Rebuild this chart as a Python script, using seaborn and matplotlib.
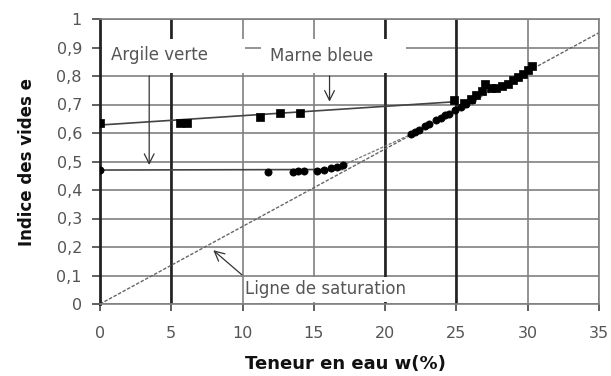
import matplotlib
matplotlib.use("Agg")
import matplotlib.pyplot as plt
from matplotlib.patches import Rectangle
import seaborn as sns
import pandas as pd

# ---------------- data ----------------
# Marne bleue (squares)
w_marne = [0, 5.6, 6.1, 11.2, 12.6, 14.0, 24.8, 25.5, 26.0, 26.4, 26.8, 27.0,
           27.4, 27.8, 28.2, 28.6, 29.0, 29.3, 29.7, 30.0, 30.3]
e_marne = [0.634, 0.634, 0.634, 0.657, 0.669, 0.671, 0.715, 0.705, 0.720, 0.735,
           0.748, 0.772, 0.758, 0.757, 0.765, 0.772, 0.785, 0.795, 0.808, 0.820, 0.835]
# Argile verte (circles)
w_argile = [0, 11.75, 13.55, 13.9, 14.3, 15.2, 15.7, 16.2, 16.6, 17.05,
            21.8, 22.1, 22.4, 22.8, 23.1, 23.6, 23.9, 24.2, 24.5, 24.9, 25.3, 25.7, 26.1]
e_argile = [0.470, 0.464, 0.464, 0.468, 0.468, 0.468, 0.470, 0.476, 0.482, 0.488,
            0.595, 0.603, 0.612, 0.625, 0.632, 0.645, 0.653, 0.662, 0.668, 0.679,
            0.690, 0.703, 0.715]
# trend / reference lines
trend_marne_w = [0, 25]
trend_marne_e = [0.628, 0.71]
trend_argile_w = [0, 17.0]
trend_argile_e = [0.470, 0.472]
link_argile_w = [17.0, 21.8]
link_argile_e = [0.486, 0.595]
sat_w = [0, 35]
sat_e = [0, 0.952]

x_ticks = [0, 5, 10, 15, 20, 25, 30, 35]
y_ticks = [0, 0.1, 0.2, 0.3, 0.4, 0.5, 0.6, 0.7, 0.8, 0.9, 1.0]
y_ticklabels = ["0", "0,1", "0,2", "0,3", "0,4", "0,5", "0,6", "0,7", "0,8", "0,9", "1"]

# ---------------- figure ----------------
sns.set_style("white")
plt.rcParams['font.family'] = ['DejaVu Sans']

fig = plt.figure(figsize=(6.11, 3.76), dpi=100)
ax = fig.add_axes([100/611, 1 - 304/376, 499/611, 285/376])
ax.set_xlim(0, 35)
ax.set_ylim(0, 1)
ax.set_axisbelow(True)

gray = "#808080"
dark = "#222222"
ax.grid(True, color=gray, lw=1.2)
for xv in [5, 20, 25]:
    ax.axvline(xv, color=dark, lw=1.9, zorder=0.6)

for side in ["top", "right", "bottom"]:
    ax.spines[side].set_color(gray)
    ax.spines[side].set_linewidth(1.2)
ax.spines["left"].set_color(dark)
ax.spines["left"].set_linewidth(2.0)

# white masks behind labels
for (x0, y0, wd, ht) in [(0.15, 0.81, 10.0, 0.12), (11.3, 0.81, 10.15, 0.12),
                         (10.15, 0.006, 12.7, 0.088)]:
    ax.add_patch(Rectangle((x0, y0), wd, ht, facecolor="white", edgecolor="none", zorder=1))

# lines
line_kw = dict(ax=ax, sort=False, estimator=None, legend=False)
sns.lineplot(x=sat_w, y=sat_e, color="#666666", lw=1.0, linestyle=(0, (2.5, 1.2)), zorder=2, **line_kw)
sns.lineplot(x=link_argile_w, y=link_argile_e, color="#777777", lw=0.9, linestyle=(0, (2.5, 1.2)), zorder=2, **line_kw)
sns.lineplot(x=trend_marne_w, y=trend_marne_e, color="#444444", lw=1.2, zorder=2, **line_kw)
sns.lineplot(x=trend_argile_w, y=trend_argile_e, color="#444444", lw=1.2, zorder=2, **line_kw)

# points
sns.scatterplot(x=w_argile, y=e_argile, marker="o", s=27, color="black",
                edgecolor="black", linewidth=0.5, ax=ax, zorder=4, legend=False)
sns.scatterplot(x=w_marne, y=e_marne, marker="s", s=32, color="black",
                edgecolor="black", linewidth=0.5, ax=ax, zorder=4, legend=False)

# annotations
txt_col = "#555555"
arr = dict(arrowstyle="->,head_length=0.7,head_width=0.35", color="#333333", lw=0.9)
ax.annotate("", xy=(3.45, 0.478), xytext=(3.45, 0.81), arrowprops=arr, zorder=3)
ax.annotate("", xy=(16.1, 0.70), xytext=(16.1, 0.81), arrowprops=arr, zorder=3)
ax.annotate("", xy=(7.8, 0.195), xytext=(10.1, 0.096), arrowprops=arr, zorder=3)
ax.text(0.8, 0.873, "Argile verte", fontsize=12, color=txt_col, va="center", ha="left", zorder=3)
ax.text(11.9, 0.870, "Marne bleue", fontsize=12, color=txt_col, va="center", ha="left", zorder=3)
ax.text(10.2, 0.052, "Ligne de saturation", fontsize=12, color=txt_col, va="center", ha="left", zorder=3)

# ticks
ax.set_xticks(x_ticks)
ax.set_xticklabels([str(v) for v in x_ticks])
ax.set_yticks(y_ticks)
ax.set_yticklabels(y_ticklabels)
ax.tick_params(axis="x", length=5, width=1.2, color="#444444", pad=11,
               labelsize=11.5, labelcolor="#555555", bottom=True)
ax.tick_params(axis="y", length=6, width=1.2, color="#444444", pad=7,
               labelsize=11.5, labelcolor="#555555", left=True)

ax.set_xlabel("Teneur en eau w(%)", fontsize=13, fontweight="bold", color="#111111")
ax.set_ylabel("Indice des vides e", fontsize=12, fontweight="bold", color="#111111")
ax.xaxis.set_label_coords(0.491, -0.18)
ax.yaxis.set_label_coords(-0.128, 0.5)

fig.savefig("out.png", dpi=100)
